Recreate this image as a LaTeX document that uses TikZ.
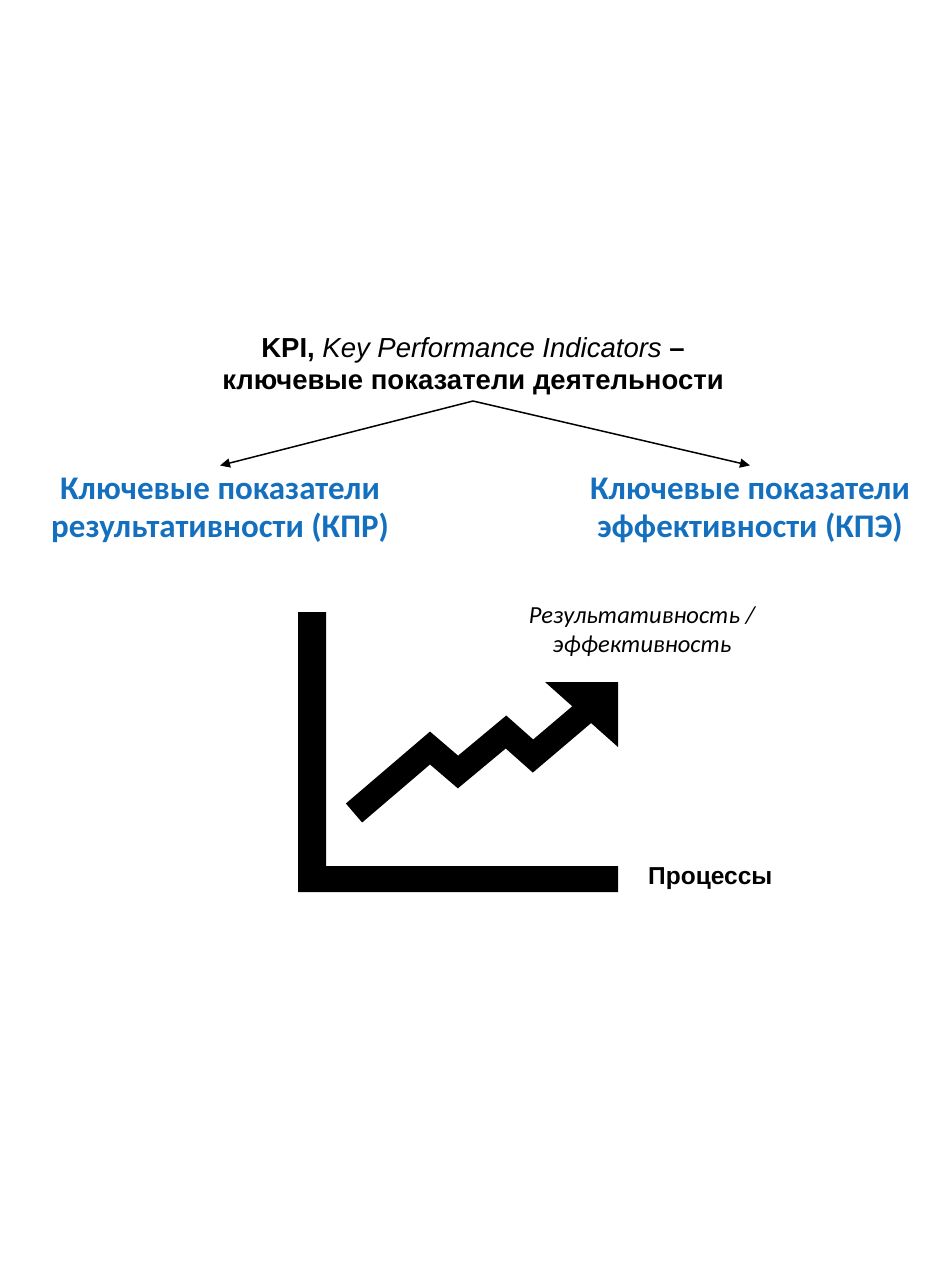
\documentclass[tikz,border=0pt]{standalone}
\usepackage{fontspec}
\setmainfont{Liberation Sans}
\newfontfamily\calibri{Carlito}
\usepackage{tikz}
\usetikzlibrary{arrows.meta}
\definecolor{kpiblue}{RGB}{20,112,190}

\tikzset{
  kpibox/.style={align=center,inner sep=0pt,text=kpiblue,
    font=\calibri\bfseries\fontsize{33}{38}\selectfont},
  splitarrow/.style={-{Triangle[length=10pt,width=9pt]},line width=1.5pt},
}

\begin{document}
\begin{tikzpicture}[x=1pt,y=-1pt]
\useasboundingbox (0,0) rectangle (946,1280);
\node[align=center,inner sep=0pt,font=\fontsize{27.5}{32}\selectfont] (kpi) at (473,366)
  {\textbf{KPI,} \textit{Key Performance Indicators} \textbf{--}\\
   \textbf{ключевые показатели деятельности}};
\coordinate (apex) at (473,401);
\node[kpibox] (kpr) at (220,510) {Ключевые показатели\\результативности (КПР)};
\node[kpibox] (kpe) at (750,510) {Ключевые показатели\\эффективности (КПЭ)};
\draw[splitarrow] (apex) -- ([yshift=12pt]kpr.north);
\draw[splitarrow] (apex) -- ([yshift=12pt]kpe.north);
% axes
\fill (298,612) -- (326,612) -- (326,866) -- (618,866) -- (618,892) -- (298,892) -- cycle;
% growth
\draw[line width=25pt,miter limit=10] (354,813) -- (430,748) -- (458,772) -- (506,732) -- (533,756) -- (586,711);
\fill (545,682) -- (618,682) -- (618,747) -- cycle;
\node[align=center,inner sep=0pt,font=\calibri\itshape\fontsize{24.5}{29}\selectfont] (ylab) at (642,632)
  {Результативность /\\эффективность};
\node[anchor=west,inner sep=0pt,font=\bfseries\fontsize{24.5}{28}\selectfont] (xlab) at (648,879) {Процессы};
\end{tikzpicture}
\end{document}
